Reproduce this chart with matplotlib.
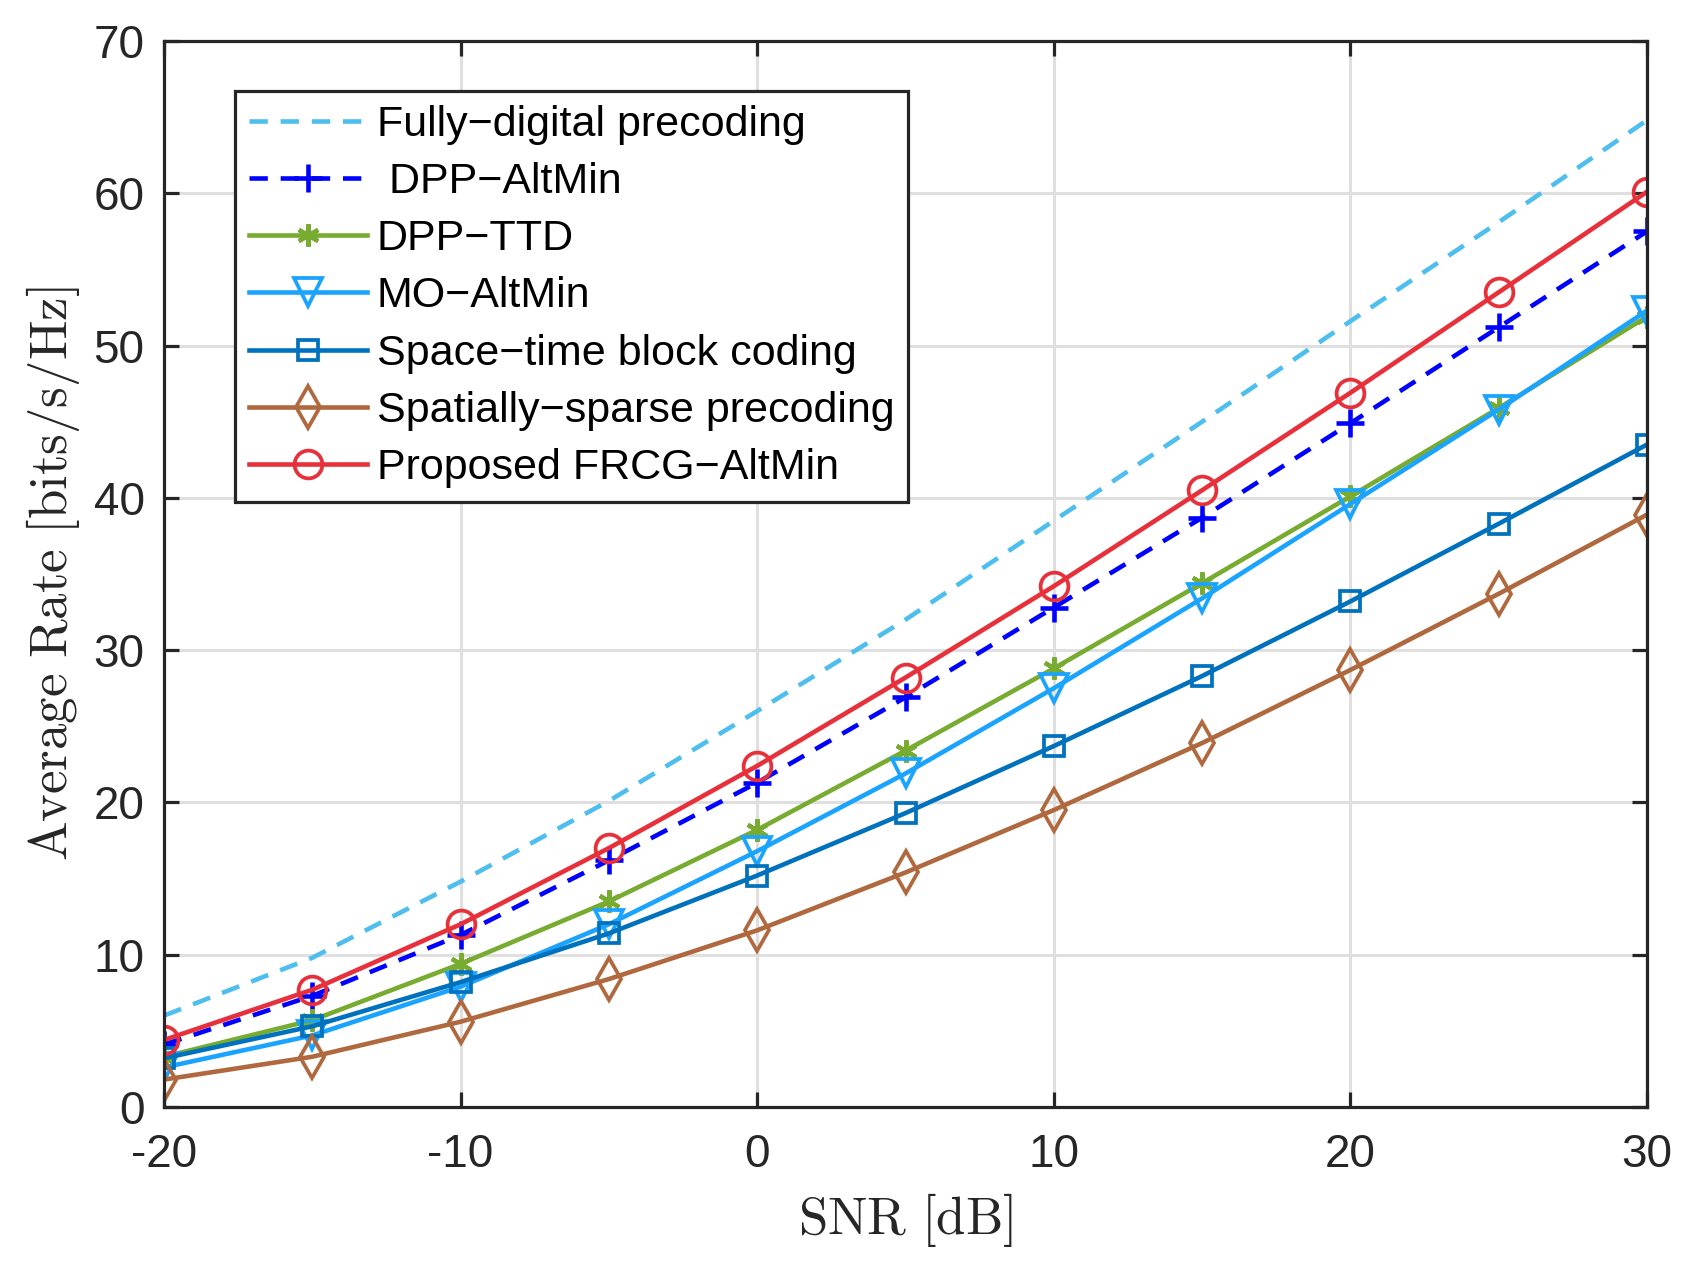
import matplotlib
matplotlib.use("Agg")
import matplotlib.pyplot as plt

plt.rcParams['font.family'] = ['Liberation Sans', 'DejaVu Sans']
plt.rcParams['mathtext.fontset'] = 'cm'
plt.rcParams['axes.unicode_minus'] = False

snr = [-20, -15, -10, -5, 0, 5, 10, 15, 20, 25, 30]
fully_digital = [6.0, 9.8, 14.8, 20.1, 26.0, 32.0, 38.5, 45.0, 51.6, 58.1, 64.8]
dpp_altmin = [4.1, 7.3, 11.3, 16.2, 21.3, 26.9, 32.8, 38.7, 44.9, 51.2, 57.5]
dpp_ttd = [3.3, 5.7, 9.4, 13.5, 18.2, 23.4, 28.8, 34.4, 40.1, 45.9, 51.9]
mo_altmin = [2.6, 4.7, 7.9, 12.0, 16.8, 21.9, 27.5, 33.4, 39.6, 45.8, 52.3]
stbc = [3.2, 5.3, 8.2, 11.4, 15.2, 19.3, 23.7, 28.3, 33.2, 38.3, 43.5]
sparse = [1.8, 3.3, 5.6, 8.4, 11.6, 15.4, 19.5, 23.9, 28.7, 33.7, 38.9]
proposed = [4.4, 7.7, 12.0, 17.0, 22.4, 28.2, 34.2, 40.5, 46.9, 53.5, 60.1]

labels = ['Fully\u2212digital precoding', ' DPP\u2212AltMin', 'DPP\u2212TTD',
          'MO\u2212AltMin', 'Space\u2212time block coding',
          'Spatially\u2212sparse precoding', 'Proposed FRCG\u2212AltMin']

fig = plt.figure(figsize=(16.88, 12.62), dpi=100)
ax = fig.add_axes([164/1688, 1 - 1107/1262, 1483/1688, 1066/1262])

lw = 3.3
ms = 20
mew = 2.7
dash = (4.0, 2.8)
ax.plot(snr, fully_digital, '--', color='#4DBEEE', lw=lw, dashes=dash, label=labels[0])
ax.plot(snr, dpp_altmin, '--', color='#0000FF', lw=lw, dashes=dash, marker='+', ms=ms, mew=mew + 0.6, label=labels[1])
ax.plot(snr, dpp_ttd, '-', color='#77AC30', lw=lw, marker=(6, 2, 0), ms=ms * 0.8, mew=mew + 0.4, label=labels[2])
ax.plot(snr, mo_altmin, '-', color='#1AA3FF', lw=lw, marker='v', ms=ms, mew=mew, mfc='none', label=labels[3])
ax.plot(snr, stbc, '-', color='#0072BD', lw=lw, marker='s', ms=ms * 0.72, mew=mew, mfc='none', label=labels[4])
ax.plot(snr, sparse, '-', color='#B0693E', lw=lw, marker='d', ms=ms * 1.05, mew=mew, mfc='none', label=labels[5])
ax.plot(snr, proposed, '-', color='#E8303A', lw=lw, marker='o', ms=ms, mew=mew, mfc='none', label=labels[6])

ax.set_xlim(-20, 30)
ax.set_ylim(0, 70)
ax.set_xticks([-20, -10, 0, 10, 20, 30])
ax.set_yticks(range(0, 71, 10))
ax.grid(True, color='#DFDFDF', lw=2.2)
ax.set_axisbelow(True)
for s in ax.spines.values():
    s.set_color('#262626')
    s.set_linewidth(2.3)
ax.tick_params(direction='in', length=11, width=2.3, colors='#262626',
               labelsize=33, top=True, right=True)
ax.tick_params(axis='x', pad=19)
ax.tick_params(axis='y', pad=14)

ax.set_xlabel(r'$\mathrm{SNR\ [dB]}$', fontsize=38, color='#262626', labelpad=10)
ax.set_ylabel(r'$\mathrm{Average\ Rate\ [bits/s/Hz]}$', fontsize=38, color='#262626', labelpad=8)

leg = ax.legend(loc='upper left', bbox_to_anchor=(71/1483, (1107-91)/1066),
                borderaxespad=0, fontsize=31, frameon=True, fancybox=False,
                handlelength=2.75, handletextpad=0.22, labelspacing=0.40,
                borderpad=0.32, edgecolor='#262626', framealpha=1)
leg.get_frame().set_linewidth(2.3)
for t in leg.get_texts():
    t.set_color('black')

fig.savefig('out.png', dpi=100)
